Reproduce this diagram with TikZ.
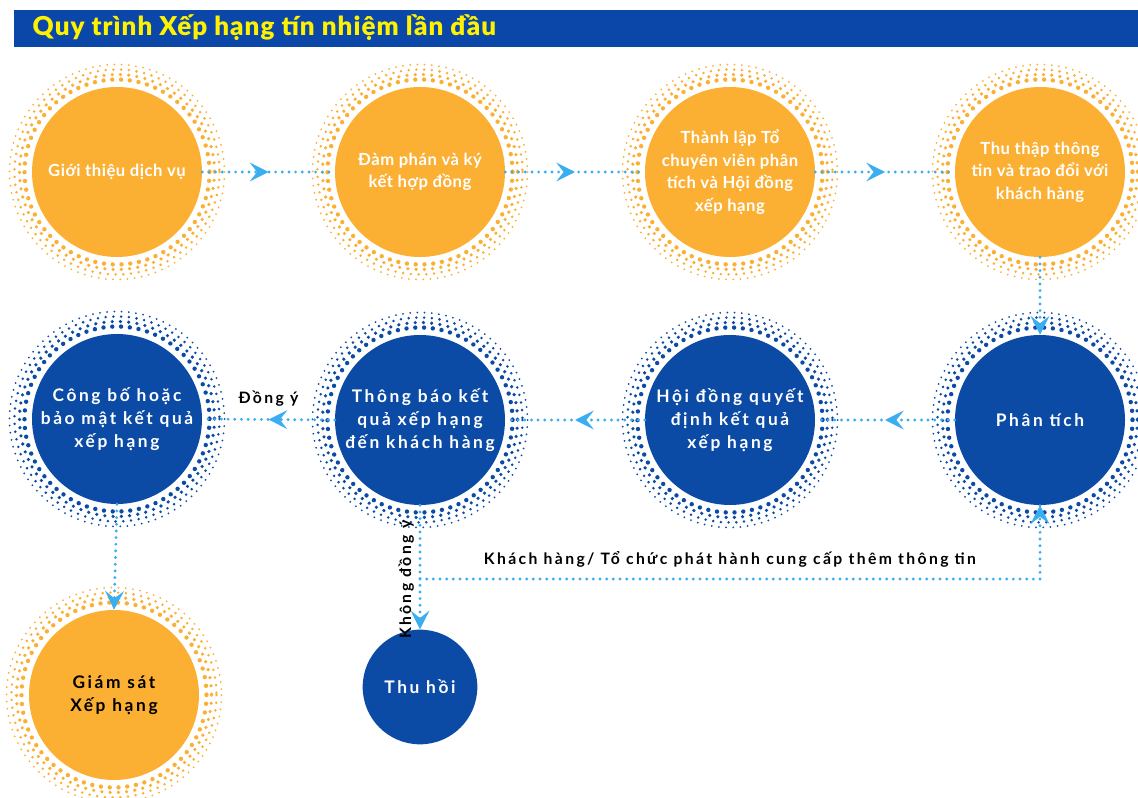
\documentclass[tikz,border=0pt]{standalone}
\usepackage{fontspec}
\setmainfont{Lato}
\newfontfamily\widefont[LetterSpace=15]{Lato}
\newfontfamily\sunfont[LetterSpace=3]{Lato}
\newfontfamily\heavyfont[LetterSpace=4]{Lato Black}
\usetikzlibrary{arrows.meta,decorations.markings}

\definecolor{barblue}{HTML}{0A47A8}
\definecolor{titleyellow}{HTML}{FFF200}
\definecolor{sunorange}{HTML}{FBB033}
\definecolor{deepblue}{HTML}{0B4BA6}
\definecolor{flowblue}{HTML}{3BAEF0}

\tikzset{
  chev/.tip={Stealth[length=14pt,width=14pt,inset=5.5pt]},
  sun/.style={circle, fill=sunorange, inner sep=0pt, minimum size=127.5pt, align=center,
    text=white, font=\sunfont\bfseries\fontsize{12.5}{17}\selectfont},
  sea/.style={circle, fill=deepblue, inner sep=0pt, minimum size=127.5pt, align=center,
    text=white, font=\widefont\bfseries\fontsize{13}{17.3}\selectfont},
  flow/.style={flowblue, line width=2.4pt, line cap=round, dash pattern=on 0pt off 5pt},
  midtip/.style={decoration={markings, mark=at position #1 with {\pgfsetdash{}{0pt}\arrow{chev}}},
    postaction={decorate}},
  tag/.style={font=\widefont\bfseries\fontsize{11.8}{13}\selectfont, text=black},
}

\begin{document}
\begin{tikzpicture}[x=0.75pt, y=-0.75pt]
\useasboundingbox (0,0) rectangle (1138,798);
\fill[barblue] (14,10) rectangle (1138,47);
\node[anchor=west, text=titleyellow, font=\heavyfont\fontsize{19.5}{21}\selectfont] (title) at (28,28) {Quy trình Xếp hạng tín nhiệm lần đầu};

\node[sun] (intro) at (117,172) {Giới thiệu dịch vụ};
\node[sun] (deal) at (420,172) {Đàm phán và ký\\kết hợp đồng};
\node[sun] (team) at (730,172) {Thành lập Tổ\\chuyên viên phân\\tích và Hội đồng\\xếp hạng};
\node[sun] (collect) at (1040,172) {Thu thập thông\\tin và trao đổi với\\khách hàng};
\node[sea] (analysis) at (1040,420) {Phân tích};
\node[sea] (council) at (730,420) {Hội đồng quyết\\định kết quả\\xếp hạng};
\node[sea] (notify) at (420,420) {Thông báo kết\\quả xếp hạng\\đến khách hàng};
\node[sea] (publish) at (117,419) {Công bố hoặc\\bảo mật kết quả\\xếp hạng};
\node[sun, text=black, font=\widefont\bfseries\fontsize{13}{17}\selectfont] (monitor) at (114,695) {Giám sát\\Xếp hạng};
\node[sea, minimum size=86pt] (withdraw) at (420,687) {Thu hồi};

\foreach \n/\c in {intro/sunorange,deal/sunorange,team/sunorange,collect/sunorange,monitor/sunorange,
    analysis/deepblue,council/deepblue,notify/deepblue,publish/deepblue}
  \foreach \d/\w/\g in {7.5/3.3pt/6.6pt,12.5/2.7pt/6.2pt,17.5/2.1pt/5.8pt,22.5/1.5pt/5.4pt}
    \draw[\c, line width=\w, line cap=round, dash pattern=on 0pt off \g] (\n.center) circle[radius=85+\d];

\draw[flow, midtip=0.5] (intro.east) -- (deal.west);
\draw[flow, midtip=0.5] (deal.east) -- (team.west);
\draw[flow, midtip=0.5] (team.east) -- (collect.west);
\draw[flow, midtip=1] (collect.south) -- (analysis.north);
\draw[flow, midtip=0.5] (analysis.west) -- (council.east);
\draw[flow, midtip=0.5] (council.west) -- (notify.east);
\draw[flow, midtip=0.5] (notify.west) -- node[tag, above=5pt] (agree) {Đồng ý} (publish.east);
\draw[flow, midtip=1] (publish.south) -- (monitor.north);
\draw[flow, midtip=1] (notify.south) -- node[tag, pos=0.6, rotate=90, anchor=south] (refuse) {Không đồng ý} (withdraw.north);
\coordinate (fork) at (notify.south |- 0,579);
\draw[flow, midtip=1] (fork) -| node[tag, pos=0.25, above=4pt] (extra) {Khách hàng/ Tổ chức phát hành cung cấp thêm thông tin} (analysis.south);
\end{tikzpicture}
\end{document}
